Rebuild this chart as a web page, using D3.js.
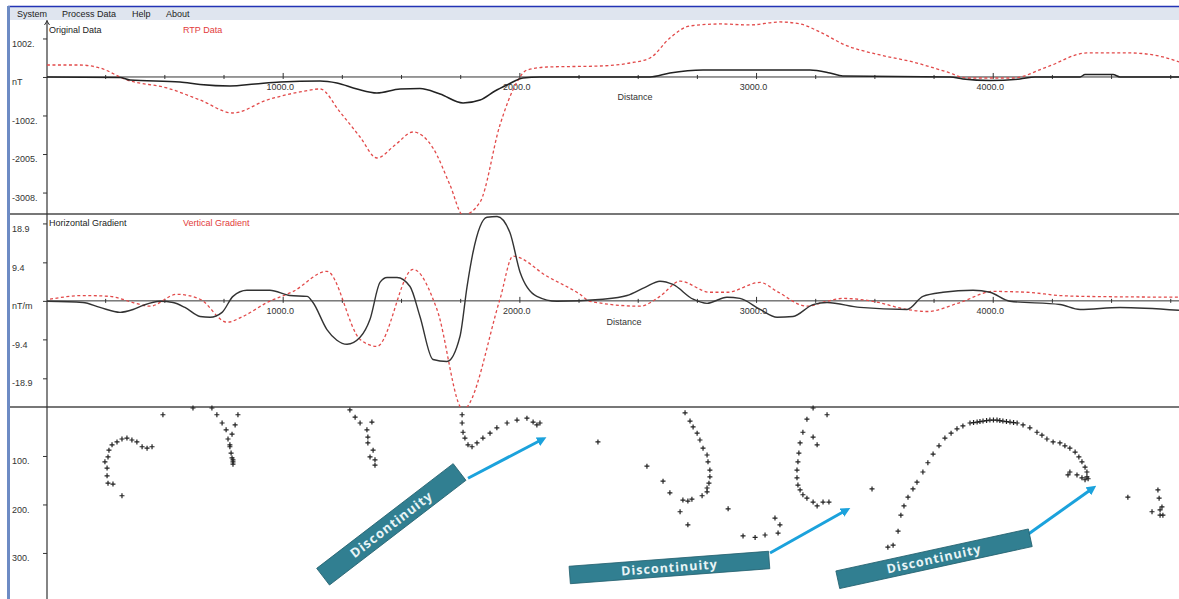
<!DOCTYPE html>
<html><head><meta charset="utf-8">
<script src="https://cdn.jsdelivr.net/npm/d3@7"></script>
<style>
body{margin:0;background:#fff;overflow:hidden;}
svg{display:block;font-family:"Liberation Sans",Arial,sans-serif;}
</style></head><body>
<svg id="c" width="1179" height="599"></svg>
<script>
// ---------- data ----------
const menuItems = ["System","Process Data","Help","About"];
const menuX = [17, 62, 132, 166];

const topTitles = ["Original Data","RTP Data"];
const midTitles = ["Horizontal Gradient","Vertical Gradient"];
const axisTitle = "Distance";

const topTickValues = [1002, 0, -1002, -2005, -3008];
const topTickLabels = ["1002.", "nT", "-1002.", "-2005.", "-3008."];
const midTickValues = [18.9, 9.4, 0, -9.4, -18.9];
const midTickLabels = ["18.9", "9.4", "nT/m", "-9.4", "-18.9"];
const botTickValues = [100, 200, 300];
const botTickLabels = ["100.", "200.", "300."];

// Original data (nT) vs distance
const origDist = [4,313,355,566,651,777,883,989,1158,1229,1314,1398,1496,1580,1665,1762,1834,1897,1948,2015,2087,2552,2636,2776,3228,3312,3367,3820,3874,3988,4115,4179,4369,4390,4508,4538,4787];
const origVal  = [0,-13,-78,-130,-195,-234,-182,-130,-104,-156,-312,-416,-312,-299,-443,-677,-599,-364,-208,-26,0,0,104,182,182,104,26,0,-52,-91,-52,0,0,65,65,0,0];

// RTP data (nT)
const rtpDist = [4,144,228,342,511,651,790,934,1073,1158,1242,1327,1398,1475,1551,1635,1707,1762,1834,1918,1990,2032,2117,2341,2467,2552,2636,2721,2848,2974,3101,3186,3270,3376,3524,3663,3807,3891,4086,4229,4398,4580,4719,4787];
const rtpVal  = [312,312,234,-78,-286,-599,-937,-599,-390,-312,-911,-1562,-2108,-1770,-1432,-1848,-2811,-3592,-3254,-1249,-130,182,260,286,364,494,1015,1328,1380,1354,1432,1380,1171,833,573,390,130,-26,-26,260,625,625,521,390];

// Horizontal gradient (nT/m)
const hgDist = [4,156,228,313,368,410,482,537,587,651,693,744,790,849,946,1031,1103,1128,1187,1229,1272,1327,1369,1411,1441,1483,1538,1580,1635,1694,1749,1779,1804,1863,1906,1960,2003,2074,2159,2353,2455,2531,2594,2649,2734,2793,2877,2932,3017,3089,3156,3241,3300,3439,3638,3705,3790,3917,3988,4073,4284,4369,4538,4787];
const hgVal  = [-0.1,-0.4,-1.6,-2.8,-2.1,-1.1,-0.1,-0.4,-1.6,-3.8,-4.0,-2.8,1.1,2.6,2.6,1.3,1.1,-0.4,-7.0,-9.6,-10.6,-8.9,-4.5,4.5,5.7,5.7,3.5,-3.8,-14.3,-14.8,-8.7,3.5,11.8,20.4,20.6,16.7,7.0,1.1,-0.1,0.4,1.3,3.3,4.8,4.0,0.4,-0.6,0.9,0.6,-2.1,-4.0,-3.8,-0.9,-0.4,-1.6,-2.1,1.1,2.1,2.6,2.1,-0.1,-0.9,-2.1,-1.6,-2.3];

// Vertical gradient (nT/m)
const vgDist = [17,156,270,368,439,553,651,765,832,934,1044,1187,1327,1398,1551,1652,1762,1918,1973,2117,2256,2298,2510,2594,2679,2805,2877,3017,3089,3215,3300,3367,3494,3638,3722,3862,4001,4145,4284,4381,4787];
const vgVal  = [0.4,1.3,1.1,-0.4,-1.3,1.6,0.4,-5.2,-3.8,-0.4,2.3,7.2,-9.4,-11.1,7.7,-2.1,-26.5,0.4,10.9,6.0,1.6,-0.1,-1.3,1.1,4.8,2.1,2.1,4.5,2.3,-1.3,-0.1,0.6,-0.1,-2.1,-2.6,-0.4,2.3,2.1,1.3,1.1,0.9];

// Euler source solutions: [distance, depth]
const sourcePoints = [
 [249,112],[258,125],[258,141],[262,156],[283,158],[321,182],[262,102],[266,88],[279,77],[300,71],[321,65],[342,63],[363,67],[384,71],[406,81],[427,84],[448,81],
 [494,15],[621,1],[701,1],[722,15],[744,32],[761,46],[769,65],[777,77],[782,94],[786,104],[790,112],[790,117],[811,15],[799,36],[786,55],[777,81],[790,108],
 [1284,5],[1306,20],[1327,32],[1377,30],[1356,46],[1360,61],[1360,73],[1382,88],[1369,102],[1390,108],[1390,119],
 [1758,15],[1758,32],[1762,51],[1770,63],[1783,77],[1800,81],[1821,73],[1846,63],[1876,53],[1905,42],[1948,32],[1990,26],[2032,22],[2058,30],[2074,36],[2087,32],
 [2332,71],[2539,121],[2607,152],[2636,176],[2679,215],[2712,242],[2700,11],[2721,28],[2734,40],[2751,53],[2763,67],[2776,84],[2793,98],[2797,112],[2805,129],[2805,143],[2801,156],[2793,166],[2793,174],[2772,182],[2712,193],[2691,191],[2729,189],[2882,209],[3080,228],[3101,242],[3093,259],[3038,263],[2996,268],[2945,265],
 [3241,1],[3300,15],[3215,24],[3198,51],[3241,61],[3258,77],[3186,73],[3181,94],[3177,112],[3173,129],[3173,145],[3177,160],[3186,170],[3198,180],[3215,187],[3241,195],[3258,203],[3283,195],[3308,195],[3490,168],
 [3557,288],[3579,284],[3600,255],[3612,222],[3625,203],[3642,185],[3663,168],[3680,154],[3705,133],[3726,114],[3748,96],[3773,79],[3798,63],[3824,53],[3849,44],[3874,38],[3904,32],[3919,31],[3934,30],[3946,29],[3959,28],[3974,27],[3988,26],[4003,26],[4018,26],[4030,27],[4043,28],[4058,29],[4073,30],[4088,31],[4103,32],[4128,36],[4157,42],[4187,51],[4208,57],[4229,65],[4255,71],[4284,73],[4305,79],[4326,84],[4348,92],[4364,102],[4377,112],[4390,123],[4398,133],[4398,143],[4390,149],[4377,145],[4356,139],[4326,133],[4318,139],[4403,147],
 [4571,185],[4698,170],[4703,187],[4715,205],[4707,211],[4673,215],[4707,222],[4719,222]
];

// annotations (distance, depth)
const calloutText = ["Discontinuity","Discontinuity","Discontinuity"];
const calloutCentre = [[1459,241],[2634,330],[3752,312]];
const arrowFrom = [[1783,146],[3059,300],[4145,263]];
const arrowTo = [[2100,65],[3384,211],[4424,166]];

// ---------- drawing ----------
const W = 1179, H = 599;
const svg = d3.select("#c");
const AX = 47;
const x = d3.scaleLinear().domain([0, 4787]).range([46, 1179]);
const yTop = d3.scaleLinear().domain([-3566, 1483]).range([214, 20]);
const yMid = d3.scaleLinear().domain([-25.9, 21.2]).range([407, 214]);
const yBot = d3.scaleLinear().domain([0, 395]).range([407.5, 599]);

svg.append("rect").attr("width", W).attr("height", H).attr("fill", "#fff");

// window chrome
svg.append("rect").attr("x", 10).attr("y", 7).attr("width", W - 10).attr("height", 13).attr("fill", "#dfe5ef");
svg.append("line").attr("x1", 8).attr("x2", W).attr("y1", 6.5).attr("y2", 6.5).attr("stroke", "#2233b5").attr("stroke-width", 1.5);
svg.append("rect").attr("x", 7).attr("y", 6).attr("width", 3).attr("height", H).attr("fill", "#6d8bc4");
svg.selectAll("text.menu").data(menuItems).join("text").attr("class", "menu")
  .attr("x", (d, i) => menuX[i]).attr("y", 16.5).attr("font-size", 9).attr("fill", "#222").text(d => d);

// clip paths
const defs = svg.append("defs");
defs.append("clipPath").attr("id", "cTop").append("rect").attr("x", AX).attr("y", 20).attr("width", W - AX).attr("height", 194);
defs.append("clipPath").attr("id", "cMid").append("rect").attr("x", AX).attr("y", 214).attr("width", W - AX).attr("height", 193);
defs.append("marker").attr("id", "ah").attr("viewBox", "0 0 10 10").attr("refX", 6).attr("refY", 5)
  .attr("markerWidth", 3.2).attr("markerHeight", 3.2).attr("orient", "auto")
  .append("path").attr("d", "M0,0L10,5L0,10z").attr("fill", "#1ba2dc");

// separators
[214, 407].forEach(yy => svg.append("line").attr("x1", 10).attr("x2", W).attr("y1", yy).attr("y2", yy)
  .attr("stroke", "#4a4a4a").attr("stroke-width", 1.4));

// vertical axis
svg.append("line").attr("x1", AX).attr("x2", AX).attr("y1", 20).attr("y2", H).attr("stroke", "#333").attr("stroke-width", 1.2);
svg.append("path").attr("d", `M${AX-2.5},25L${AX},21L${AX+2.5},25`).attr("fill", "none").attr("stroke", "#333");

function yAxis(scale, vals, labels) {
  const g = svg.append("g").attr("transform", `translate(${AX},0)`)
    .call(d3.axisLeft(scale).tickValues(vals).tickSize(4).tickFormat((d, i) => labels[i]));
  g.select(".domain").remove();
  g.selectAll(".tick line").attr("stroke", "#333");
  g.selectAll(".tick text").attr("x", -35).attr("dy", "0.85em").attr("text-anchor", "start")
    .attr("font-size", 9).attr("font-family", "Liberation Sans, Arial, sans-serif").attr("fill", "#333");
}
yAxis(yTop, topTickValues, topTickLabels);
yAxis(yMid, midTickValues, midTickLabels);
yAxis(yBot, botTickValues, botTickLabels);

// x axes on zero lines
function xAxis(y0) {
  svg.append("line").attr("x1", AX).attr("x2", W).attr("y1", y0).attr("y2", y0).attr("stroke", "#333").attr("stroke-width", 1);
  const g = svg.append("g").attr("transform", `translate(0,${y0})`)
    .call(d3.axisBottom(x).tickValues(d3.range(250, 4787, 250)).tickSize(2)
      .tickFormat(d => d % 1000 === 0 ? d3.format(".1f")(d) : ""));
  g.select(".domain").remove();
  g.selectAll(".tick line").attr("y1", d => d % 1000 === 0 ? -4 : -2).attr("stroke", "#333");
  g.selectAll(".tick text").attr("y", 7).attr("x", -3).attr("font-size", 9)
    .attr("font-family", "Liberation Sans, Arial, sans-serif").attr("fill", "#333");
}
xAxis(yTop(0));
xAxis(yMid(0));

svg.append("text").attr("x", 635).attr("y", 100).attr("text-anchor", "middle").attr("font-size", 9).attr("fill", "#333").text(axisTitle);
svg.append("text").attr("x", 624).attr("y", 325).attr("text-anchor", "middle").attr("font-size", 9).attr("fill", "#333").text(axisTitle);

// panel titles
const titleX = [49, 183], titleCol = ["#222", "#e23b3b"];
topTitles.forEach((t, i) => svg.append("text").attr("x", titleX[i]).attr("y", 33).attr("font-size", 9).attr("fill", titleCol[i]).text(t));
midTitles.forEach((t, i) => svg.append("text").attr("x", titleX[i]).attr("y", 226).attr("font-size", 9).attr("fill", titleCol[i]).text(t));

// lines
function drawLine(dist, vals, ys, clip, stroke, width, dash) {
  const data = dist.map((d, i) => [d, vals[i]]);
  const line = d3.line().x(d => x(d[0])).y(d => ys(d[1])).curve(d3.curveMonotoneX);
  svg.append("path").attr("clip-path", `url(#${clip})`).attr("d", line(data))
    .attr("fill", "none").attr("stroke", stroke).attr("stroke-width", width)
    .attr("stroke-dasharray", dash || null).attr("stroke-linejoin", "round");
}
drawLine(rtpDist, rtpVal, yTop, "cTop", "#e24a4a", 1.3, "3,2.5");
drawLine(origDist, origVal, yTop, "cTop", "#222", 1.5);
drawLine(vgDist, vgVal, yMid, "cMid", "#e24a4a", 1.3, "3,2.5");
drawLine(hgDist, hgVal, yMid, "cMid", "#333", 1.4);

// source points
svg.append("g").selectAll("path").data(sourcePoints).join("path")
  .attr("transform", d => `translate(${x(d[0])},${yBot(d[1])})`)
  .attr("d", "M-2.5,0H2.5M0,-2.5V2.5").attr("stroke", "#222").attr("stroke-width", 1.2).attr("fill", "none");

// callouts
const boxGeom = [{a: -37.5, w: 172, h: 21}, {a: -4.3, w: 200, h: 17.5}, {a: -12.3, w: 197, h: 18}];
calloutText.forEach((t, i) => {
  svg.append("line")
    .attr("x1", x(arrowFrom[i][0])).attr("y1", yBot(arrowFrom[i][1]))
    .attr("x2", x(arrowTo[i][0])).attr("y2", yBot(arrowTo[i][1]))
    .attr("stroke", "#1ba2dc").attr("stroke-width", 3).attr("marker-end", "url(#ah)");
  const g = svg.append("g")
    .attr("transform", `translate(${x(calloutCentre[i][0])},${yBot(calloutCentre[i][1])}) rotate(${boxGeom[i].a})`);
  g.append("rect").attr("x", -boxGeom[i].w / 2).attr("y", -boxGeom[i].h / 2)
    .attr("width", boxGeom[i].w).attr("height", boxGeom[i].h)
    .attr("fill", "#317f91").attr("stroke", "#23606e").attr("stroke-width", 0.8);
  g.append("text").attr("text-anchor", "middle").attr("dy", "0.36em")
    .attr("font-family", "Open Sans, sans-serif").attr("font-weight", "bold")
    .attr("font-size", i === 0 ? 13 : 12.5).attr("letter-spacing", 1).attr("fill", "#e8f4f6").text(t);
});
</script>
</body></html>
